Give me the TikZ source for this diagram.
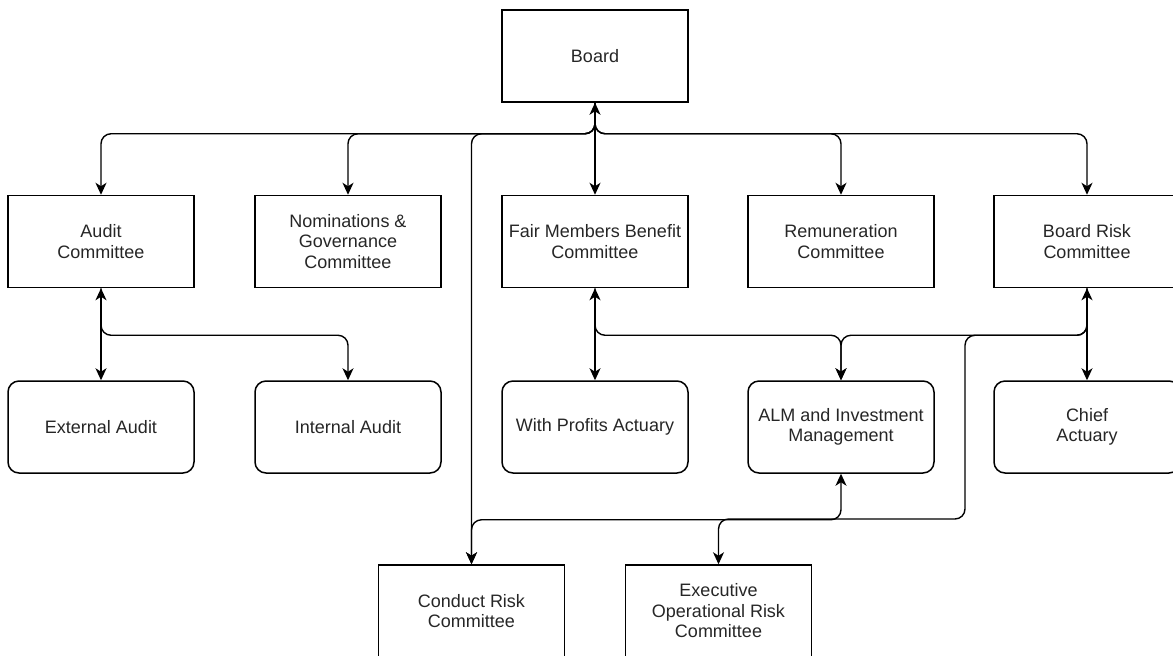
\documentclass[tikz,border=0pt]{standalone}
\usepackage{fontspec}
\setmainfont{Liberation Sans}
\usepackage{tikz}
\usetikzlibrary{arrows.meta,positioning,calc}
\tikzset{
  bloc/.style={draw,line width=1.5pt,align=center,minimum width=186pt,minimum height=92pt,
    inner sep=4pt,text=black!85,font=\fontsize{18}{20.5}\selectfont},
  comite/.style={bloc},
  equipe/.style={bloc,rounded corners=11pt},
  pointe/.tip={Stealth[length=12pt,width=11pt,inset=3.5pt]},
  fl/.style={-pointe,line width=1.4pt,rounded corners=10pt},
  dfl/.style={pointe-pointe,line width=1.4pt,rounded corners=10pt},
}
\begin{document}
\begin{tikzpicture}[x=1pt,y=-1pt]
  \useasboundingbox (0,0) rectangle (1173,657);
  \clip (0,0) rectangle (1173,655);
  \node[comite] (board) at (595,56) {Board};
  \node[comite] (audit) at (101,241.5) {Audit\\Committee};
  \node[comite] (nomin) at (348,241.5) {Nominations \&\\Governance\\Committee};
  \node[comite] (fair) at (595,241.5) {Fair Members Benefit\\Committee};
  \node[comite] (remun) at (841,241.5) {Remuneration\\Committee};
  \node[comite] (brisk) at (1087,241.5) {Board Risk\\Committee};
  \node[equipe] (extaud) at (101,427) {External Audit};
  \node[equipe] (intaud) at (348,427) {Internal Audit};
  \node[equipe] (wprof) at (595,427) {With Profits Actuary};
  \node[equipe] (alm) at (841,427) {ALM and Investment\\Management};
  \node[equipe] (chief) at (1087,427) {Chief\\Actuary};
  \node[comite] (conduct) at (471.5,611) {Conduct Risk\\Committee};
  \node[comite] (execop) at (718.5,611) {Executive\\Operational Risk\\Committee};
  \coordinate (coude) at (965,519);
  % board vers les comites
  \draw[dfl] (board) -- (fair);
  \foreach \c in {audit,nomin,remun,brisk,conduct}
    \draw[fl] (board.south) -- ++(0,31) -| (\c.north);
  % comites vers les fonctions
  \draw[dfl] (audit) -- (extaud);
  \draw[dfl] (fair) -- (wprof);
  \draw[dfl] (brisk) -- (chief);
  \draw[fl] (audit.south) -- ++(0,47) -| (intaud.north);
  \draw[fl] (fair.south) -- ++(0,47) -| (alm.north);
  \draw[fl] (brisk.south) -- ++(0,47) -| (alm.north);
  \draw[fl] (brisk.south) -- ++(0,47) -| (coude) -| (execop.north);
  \draw[dfl] (alm.south) -- ++(0,46) -| (conduct.north);
\end{tikzpicture}
\end{document}
